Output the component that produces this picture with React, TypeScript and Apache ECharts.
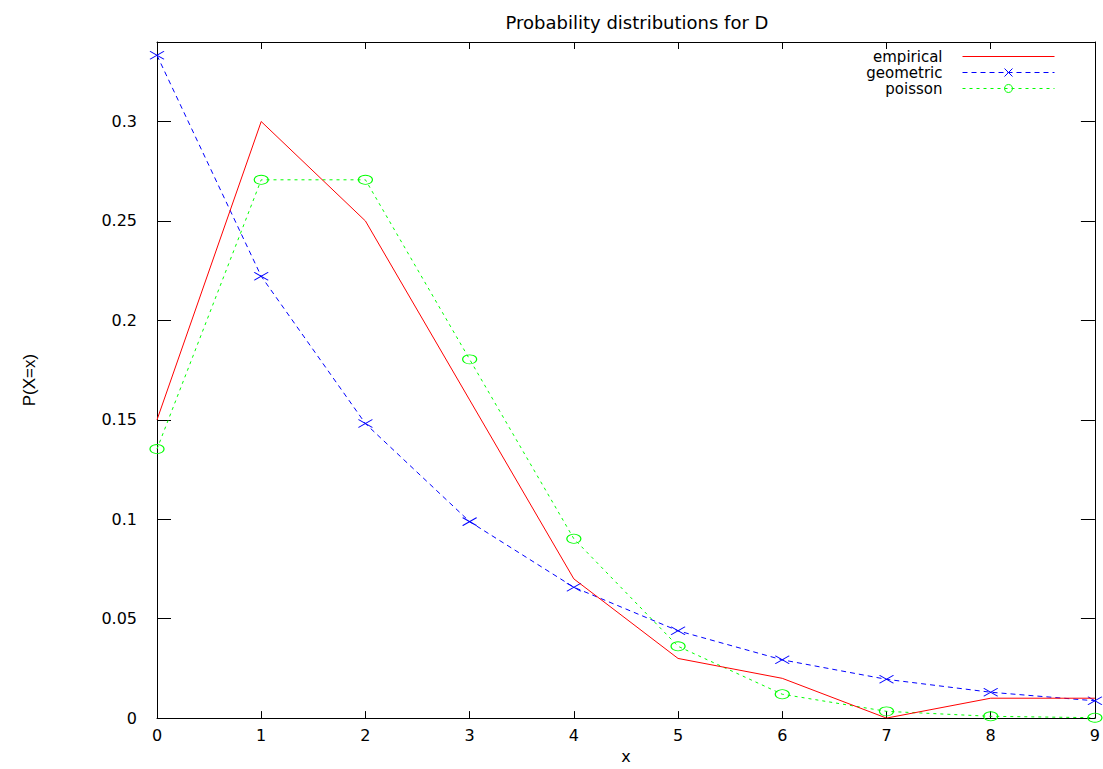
import React, { useEffect, useRef } from "react";
import * as echarts from "echarts";

const xValues = [0, 1, 2, 3, 4, 5, 6, 7, 8, 9];
const empirical = [0.15, 0.3, 0.25, 0.16, 0.07, 0.03, 0.02, 0.0, 0.01, 0.01];
const geometric = [0.3333, 0.2222, 0.1481, 0.0988, 0.0658, 0.0439, 0.0293, 0.0195, 0.013, 0.0087];
const poisson = [0.1353, 0.2707, 0.2707, 0.1804, 0.0902, 0.0361, 0.012, 0.0034, 0.0009, 0.0002];
const yTickLabels = ["0", "0.05", "0.1", "0.15", "0.2", "0.25", "0.3"];

const FONT = "DejaVu Sans";

function pairs(ys: number[]) {
  return xValues.map((x, i) => [x, ys[i]]);
}

export default function App() {
  const ref = useRef<HTMLDivElement>(null);
  useEffect(() => {
    if (!ref.current) return;
    const chart = echarts.init(ref.current, undefined, { renderer: "svg" });
    const axisLine = { show: true, onZero: false, lineStyle: { color: "#000", width: 1 } };
    const yLabel = (v: number) => {
      const idx = Math.round(v / 0.05);
      if (Math.abs(v - idx * 0.05) > 1e-6) return "";
      return yTickLabels[idx] ?? "";
    };
    const legendRows = [
      { name: "empirical", top: 49, hideSymbol: true },
      { name: "geometric", top: 65, hideSymbol: false },
      { name: "poisson", top: 81, hideSymbol: false },
    ];
    chart.setOption({
      animation: false,
      backgroundColor: "#fff",
      title: {
        text: "Probability distributions for D",
        left: 632,
        textAlign: "center",
        top: 8,
        textStyle: { fontFamily: FONT, fontSize: 18, fontWeight: "normal", color: "#000" },
      },
      legend: legendRows.map((l) => ({
        data: [l.name],
        top: l.top,
        right: 48,
        padding: 0,
        orient: "vertical",
        align: "right",
        itemWidth: 92,
        itemHeight: 10,
        selectedMode: false,
        lineStyle: { width: 1 },
        itemStyle: l.hideSymbol ? { opacity: 0 } : { borderWidth: 1 },
        textStyle: {
          fontFamily: FONT,
          fontSize: 15,
          lineHeight: 15,
          color: "#000",
          padding: [0, 15, 0, 0],
        },
      })),
      grid: { left: 157, right: 8, top: 42, bottom: 49, show: false },
      xAxis: [
        {
          type: "value",
          min: 0,
          max: 9,
          interval: 1,
          position: "bottom",
          name: "x",
          nameLocation: "middle",
          nameGap: 27,
          nameTextStyle: { fontFamily: FONT, fontSize: 16, color: "#000" },
          axisLine,
          axisTick: { show: true, inside: true, length: 7, lineStyle: { color: "#000" } },
          axisLabel: { fontFamily: FONT, fontSize: 16, color: "#000", margin: 9 },
          splitLine: { show: false },
        },
        {
          type: "value",
          min: 0,
          max: 9,
          interval: 1,
          position: "top",
          axisLine,
          axisTick: { show: true, inside: true, length: 7, lineStyle: { color: "#000" } },
          axisLabel: { show: false },
          splitLine: { show: false },
        },
      ],
      yAxis: [
        {
          type: "value",
          min: 0,
          max: 0.34,
          interval: 0.05,
          position: "left",
          name: "P(X=x)",
          nameLocation: "middle",
          nameRotate: 90,
          nameGap: 119,
          nameTextStyle: { fontFamily: "Liberation Sans", fontSize: 17, color: "#000" },
          axisLine,
          axisTick: { show: true, inside: true, length: 14, lineStyle: { color: "#000" } },
          axisLabel: { fontFamily: FONT, fontSize: 16, color: "#000", margin: 20, formatter: yLabel },
          splitLine: { show: false },
        },
        {
          type: "value",
          min: 0,
          max: 0.34,
          interval: 0.05,
          position: "right",
          axisLine,
          axisTick: { show: true, inside: true, length: 14, lineStyle: { color: "#000" } },
          axisLabel: { show: false },
          splitLine: { show: false },
        },
      ],
      series: [
        {
          name: "empirical",
          type: "line",
          data: pairs(empirical),
          symbol: "none",
          color: "#ff0000",
          lineStyle: { color: "#ff0000", width: 1 },
          z: 3,
        },
        {
          name: "geometric",
          type: "line",
          data: pairs(geometric),
          symbol: "path://M0,0L10,10M0,10L10,0",
          symbolSize: [14, 8],
          symbolKeepAspect: false,
          color: "#0000ff",
          itemStyle: { color: "#0000ff", borderColor: "#0000ff", borderWidth: 1 },
          lineStyle: { color: "#0000ff", width: 1, type: [5, 4] },
          z: 2,
        },
        {
          name: "poisson",
          type: "line",
          data: pairs(poisson),
          symbol: "circle",
          symbolSize: [14, 9],
          color: "#00ff00",
          itemStyle: { color: "rgba(255,255,255,0)", borderColor: "#00ff00", borderWidth: 1 },
          lineStyle: { color: "#00ff00", width: 1, type: [3, 4] },
          z: 2,
        },
      ],
    });
    return () => chart.dispose();
  }, []);
  return (
    <div
      ref={ref}
      style={{ position: "fixed", left: 0, top: 0, width: 1103, height: 769, background: "#fff" }}
    />
  );
}
